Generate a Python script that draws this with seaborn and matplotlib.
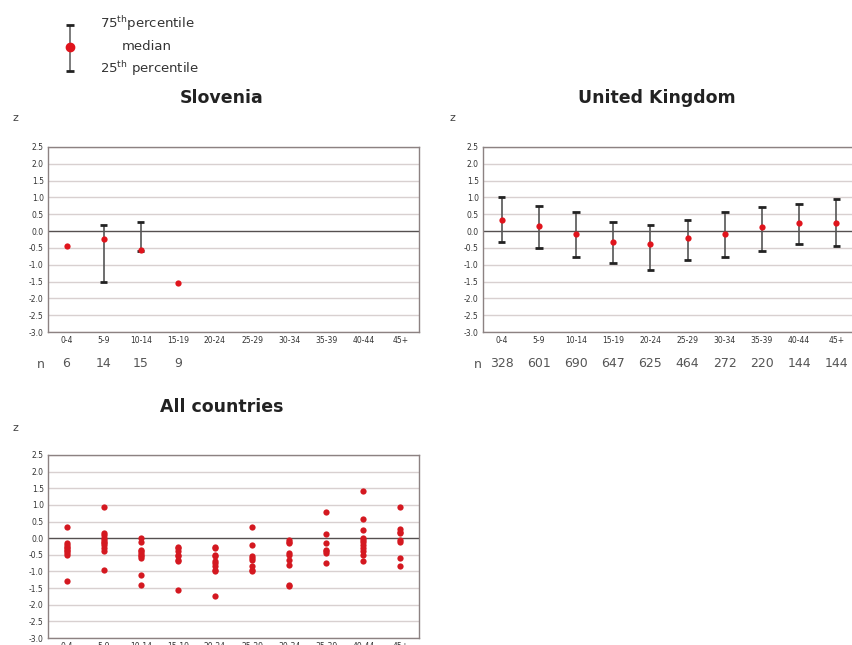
import numpy as np
import pandas as pd
import seaborn as sns
import matplotlib
matplotlib.use("Agg")
import matplotlib.pyplot as plt

# age groups
age_groups = ['0-4', '5-9', '10-14', '15-19', '20-24', '25-29', '30-34', '35-39', '40-44', '45+']

# Slovenia: median and quartiles (None = no whisker)
slo_median = [-0.45, -0.23, -0.57, -1.55]
slo_q75 = [None, 0.17, 0.26, None]
slo_q25 = [None, -1.50, -0.60, None]
slo_n = [6, 14, 15, 9]

# United Kingdom
uk_median = [0.33, 0.14, -0.09, -0.31, -0.38, -0.22, -0.10, 0.11, 0.23, 0.25]
uk_q75 = [1.00, 0.75, 0.57, 0.28, 0.19, 0.34, 0.58, 0.72, 0.82, 0.94]
uk_q25 = [-0.32, -0.50, -0.78, -0.94, -1.17, -0.87, -0.78, -0.59, -0.38, -0.44]
uk_n = [328, 601, 690, 647, 625, 464, 272, 220, 144, 144]

# All countries: medians per country per age group
all_values = {
    '0-4': [0.35, -0.15, -0.2, -0.25, -0.3, -0.35, -0.4, -0.45, -0.5, -1.3],
    '5-9': [0.95, 0.15, 0.1, 0.0, -0.05, -0.1, -0.15, -0.2, -0.3, -0.4, -0.95],
    '10-14': [0.02, -0.1, -0.35, -0.4, -0.45, -0.5, -0.55, -0.6, -1.1, -1.4],
    '15-19': [-0.25, -0.3, -0.4, -0.5, -0.55, -0.65, -0.7, -1.55],
    '20-24': [-0.25, -0.3, -0.5, -0.55, -0.7, -0.75, -0.85, -0.95, -1.0, -1.75],
    '25-29': [0.33, -0.2, -0.55, -0.6, -0.65, -0.85, -0.95, -1.0],
    '30-34': [-0.05, -0.1, -0.15, -0.45, -0.5, -0.65, -0.8, -1.4, -1.45],
    '35-39': [0.8, 0.13, -0.15, -0.35, -0.4, -0.45, -0.75],
    '40-44': [1.42, 0.58, 0.25, 0.0, -0.05, -0.1, -0.2, -0.3, -0.4, -0.5, -0.7],
    '45+': [0.95, 0.28, 0.2, 0.15, -0.05, -0.1, -0.6, -0.85],
}

yticks = np.arange(-3.0, 2.51, 0.5)

RED = '#e0141c'
GRID = '#d8d0d0'
FRAME = '#8c8282'

sns.set_theme(style='white')
plt.rcParams['font.family'] = ['DejaVu Sans']

W, H = 853, 645
fig = plt.figure(figsize=(W / 100, H / 100), dpi=100)


def px_axes(left, top, right, bottom):
    return fig.add_axes([left / W, 1 - bottom / H, (right - left) / W, (bottom - top) / H])


def style_axes(ax):
    ax.set_xlim(-0.5, len(age_groups) - 0.5)
    ax.set_ylim(-3.0, 2.5)
    ax.set_yticks(yticks)
    ax.set_yticklabels([f'{t:.1f}' for t in yticks], fontsize=5.5, color='#333333')
    ax.set_xticks(range(len(age_groups)))
    ax.set_xticklabels(age_groups, fontsize=5.5, color='#333333')
    ax.tick_params(axis='both', length=0, pad=3)
    for t in yticks:
        if abs(t) < 1e-9:
            ax.axhline(0, color='#555050', lw=1.0, zorder=1)
        else:
            ax.axhline(t, color=GRID, lw=1.0, zorder=0)
    for s in ax.spines.values():
        s.set_color(FRAME)
        s.set_linewidth(1.0)
    ax.set_xlabel('')
    ax.set_ylabel('')


def draw_box(ax, med, q75, q25, title, n, title_x, zx, nx):
    cats = age_groups[:len(med)]
    df = pd.DataFrame({'age': cats, 'z': med})
    for i, (hi, lo) in enumerate(zip(q75, q25)):
        if hi is None:
            continue
        ax.vlines(i, lo, hi, color='#555555', lw=1.2, zorder=3)
        ax.hlines([lo, hi], i - 0.1, i + 0.1, color='#222222', lw=2.0, zorder=3)
    sns.stripplot(data=df, x='age', y='z', order=age_groups, jitter=False,
                  color=RED, size=4.5, linewidth=0, ax=ax, zorder=4)
    style_axes(ax)
    fig.text(title_x / W, 1 - 98 / H, title, ha='center', va='center',
             fontsize=12.5, fontweight='bold', color='#222222')
    fig.text(zx / W, 1 - 118 / H, 'z', ha='center', va='center', fontsize=8, color='#444444')
    fig.text(nx / W, 1 - 364 / H, 'n', ha='center', va='center', fontsize=9, color='#555555')
    for i, v in enumerate(n):
        ax.text(i, -0.17, str(v), transform=ax.get_xaxis_transform(), ha='center', va='center',
                fontsize=9, color='#555555')


ax1 = px_axes(48, 147, 419, 332)
draw_box(ax1, slo_median, slo_q75, slo_q25, 'Slovenia', slo_n, 222, 15, 41)

ax2 = px_axes(483, 147, 855, 332)
draw_box(ax2, uk_median, uk_q75, uk_q25, 'United Kingdom', uk_n, 657, 452, 478)

# all countries
ax3 = px_axes(48, 455, 419, 638)
rows = [(g, v) for g in age_groups for v in all_values[g]]
df_all = pd.DataFrame(rows, columns=['age', 'z'])
sns.stripplot(data=df_all, x='age', y='z', order=age_groups, jitter=False,
              color='#d41820', size=4.5, linewidth=0, ax=ax3, zorder=4)
style_axes(ax3)
fig.text(222 / W, 1 - 407 / H, 'All countries', ha='center', va='center',
         fontsize=12.5, fontweight='bold', color='#222222')
fig.text(15 / W, 1 - 428 / H, 'z', ha='center', va='center', fontsize=8, color='#444444')

# legend key
lg = px_axes(55, 15, 85, 80)
lg.set_xlim(0, 1)
lg.set_ylim(80, 15)
lg.axis('off')
lg.vlines(0.5, 25, 71, color='#666666', lw=1.2)
lg.hlines([25, 71], 0.38, 0.62, color='#222222', lw=2.0)
lg.plot([0.5], [47], 'o', color=RED, ms=6)
fig.text(100 / W, 1 - 24 / H, '75$^{\\rm th}$percentile', ha='left', va='center',
         fontsize=9.5, color='#333333')
fig.text(147 / W, 1 - 46 / H, 'median', ha='center', va='center', fontsize=9.5, color='#333333')
fig.text(100 / W, 1 - 69 / H, '25$^{\\rm th}$ percentile', ha='left', va='center',
         fontsize=9.5, color='#333333')

fig.savefig('out.png', dpi=100)
